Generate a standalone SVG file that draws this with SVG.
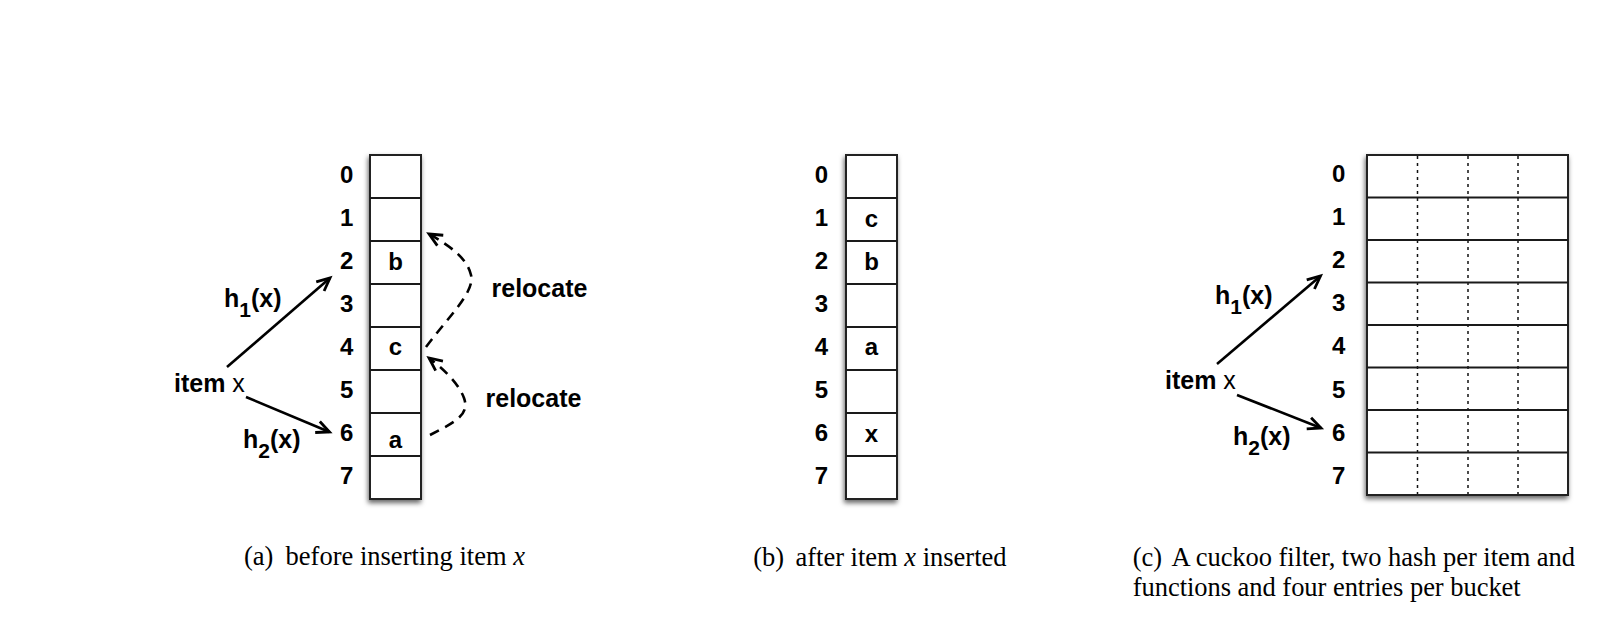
<svg xmlns="http://www.w3.org/2000/svg" width="1624" height="626" viewBox="0 0 1624 626">
<style>
.lbl{font-family:"Liberation Sans",Arial,sans-serif;font-weight:bold;font-size:25px;fill:#000}
.num{font-family:"Liberation Sans",Arial,sans-serif;font-weight:bold;font-size:24px;fill:#000;text-anchor:middle}
.reg{font-weight:normal}
.sub{font-size:21px}
.cap{font-family:"Liberation Serif","Times New Roman",serif;font-size:26.5px;fill:#000}
.it{font-style:italic}
.tbl{fill:#fff;stroke:#222;stroke-width:2}
.row{stroke:#1a1a1a;stroke-width:1.8;fill:none}
.dot{stroke:#111;stroke-width:1.5;stroke-dasharray:3 4;fill:none}
.arr{stroke:#000;stroke-width:2.6;fill:none}
.dash{stroke:#000;stroke-width:2.6;fill:none;stroke-dasharray:10 7}
</style>
<defs>
<filter id="sh" x="-20%" y="-10%" width="140%" height="120%">
<feGaussianBlur in="SourceAlpha" stdDeviation="2.5"/>
<feOffset dx="-1" dy="3" result="b"/>
<feFlood flood-color="#000" flood-opacity="0.6"/>
<feComposite in2="b" operator="in"/>
<feMerge><feMergeNode/><feMergeNode in="SourceGraphic"/></feMerge>
</filter>
<marker id="ah" markerWidth="20" markerHeight="20" viewBox="-16 -10 20 20" refX="0" refY="0" orient="auto" markerUnits="userSpaceOnUse">
<path d="M-13,-6 L0,0 L-13,6" fill="none" stroke="#000" stroke-width="2.8" stroke-dasharray="none" stroke-linejoin="miter"/>
</marker>
</defs>

<!-- Panel (a) -->
<g id="table-a">
<rect class="tbl" x="370" y="155" width="51" height="344" filter="url(#sh)"/>
<path class="row" d="M370,198H421M370,241H421M370,284H421M370,327H421M370,370H421M370,413H421M370,456H421"/>
<text class="num" x="346.7" y="183">0</text>
<text class="num" x="346.7" y="226">1</text>
<text class="num" x="346.7" y="269">2</text>
<text class="num" x="346.7" y="312">3</text>
<text class="num" x="346.7" y="355">4</text>
<text class="num" x="346.7" y="398">5</text>
<text class="num" x="346.7" y="441">6</text>
<text class="num" x="346.7" y="484">7</text>
<text class="num" x="395.5" y="270">b</text>
<text class="num" x="395.5" y="355">c</text>
<text class="num" x="395.5" y="448">a</text>
</g>
<g id="item-a">
<text class="lbl" x="174" y="392">item <tspan class="reg">x</tspan></text>
</g>
<g id="h1-a"><text class="lbl" x="224" y="307">h<tspan class="sub" dy="10">1</tspan><tspan dy="-10">(x)</tspan></text></g>
<g id="h2-a"><text class="lbl" x="243" y="448">h<tspan class="sub" dy="10">2</tspan><tspan dy="-10">(x)</tspan></text></g>
<g id="reloc-a1"><text class="lbl" x="491.5" y="297">relocate</text></g>
<g id="reloc-a2"><text class="lbl" x="485.5" y="407">relocate</text></g>

<!-- Panel (b) -->
<g id="table-b">
<rect class="tbl" x="846" y="155" width="51" height="344" filter="url(#sh)"/>
<path class="row" d="M846,198H897M846,241H897M846,284H897M846,327H897M846,370H897M846,413H897M846,456H897"/>
<text class="num" x="821.5" y="183">0</text>
<text class="num" x="821.5" y="226">1</text>
<text class="num" x="821.5" y="269">2</text>
<text class="num" x="821.5" y="312">3</text>
<text class="num" x="821.5" y="355">4</text>
<text class="num" x="821.5" y="398">5</text>
<text class="num" x="821.5" y="441">6</text>
<text class="num" x="821.5" y="484">7</text>
<text class="num" x="871.5" y="227">c</text>
<text class="num" x="871.5" y="270">b</text>
<text class="num" x="871.5" y="355">a</text>
<text class="num" x="871.5" y="442">x</text>
</g>

<!-- Panel (c) -->
<g id="table-c">
<rect class="tbl" x="1367" y="155" width="201" height="340" filter="url(#sh)"/>
<path class="dot" d="M1417.5,156V494M1468,156V494M1518,156V494"/>
<path class="row" d="M1367,197.5H1568M1367,240H1568M1367,282.5H1568M1367,325H1568M1367,367.5H1568M1367,410H1568M1367,452.5H1568"/>
<text class="num" x="1338.7" y="182">0</text>
<text class="num" x="1338.7" y="225">1</text>
<text class="num" x="1338.7" y="268">2</text>
<text class="num" x="1338.7" y="311">3</text>
<text class="num" x="1338.7" y="354">4</text>
<text class="num" x="1338.7" y="397.5">5</text>
<text class="num" x="1338.7" y="441">6</text>
<text class="num" x="1338.7" y="483.5">7</text>
</g>
<g id="item-c">
<text class="lbl" x="1165" y="388.5">item <tspan class="reg">x</tspan></text>
</g>
<g id="h1-c"><text class="lbl" x="1215" y="303.5">h<tspan class="sub" dy="10">1</tspan><tspan dy="-10">(x)</tspan></text></g>
<g id="h2-c"><text class="lbl" x="1233" y="445">h<tspan class="sub" dy="10">2</tspan><tspan dy="-10">(x)</tspan></text></g>

<!-- Connectors -->
<g id="connectors">
<path class="arr" d="M227,367L330,278" marker-end="url(#ah)"/>
<path class="arr" d="M246,397L329.5,432" marker-end="url(#ah)"/>
<path class="dash" d="M426,347C450,315 475,292 471,275C467,258 450,246 429,234" marker-end="url(#ah)"/>
<path class="dash" d="M430,435C455,422 470,415 464,398C458,382 442,368 429,358" marker-end="url(#ah)"/>
<path class="arr" d="M1217,364L1320.5,276" marker-end="url(#ah)"/>
<path class="arr" d="M1237,395L1321,428" marker-end="url(#ah)"/>
</g>

<!-- Captions -->
<g id="captions">
<text class="cap" x="244" y="565">(a)</text>
<text class="cap" x="285.5" y="565" textLength="239.5" lengthAdjust="spacing">before inserting item <tspan class="it">x</tspan></text>
<text class="cap" x="753.3" y="565.7">(b)</text>
<text class="cap" x="795.5" y="565.7" textLength="211" lengthAdjust="spacing">after item <tspan class="it">x</tspan> inserted</text>
<text class="cap" x="1132.7" y="565.7">(c)</text>
<text class="cap" x="1171.5" y="565.7" textLength="403.5" lengthAdjust="spacing">A cuckoo filter, two hash per item and</text>
<text class="cap" x="1132.7" y="595.7" textLength="388" lengthAdjust="spacing">functions and four entries per bucket</text>
</g>
</svg>
